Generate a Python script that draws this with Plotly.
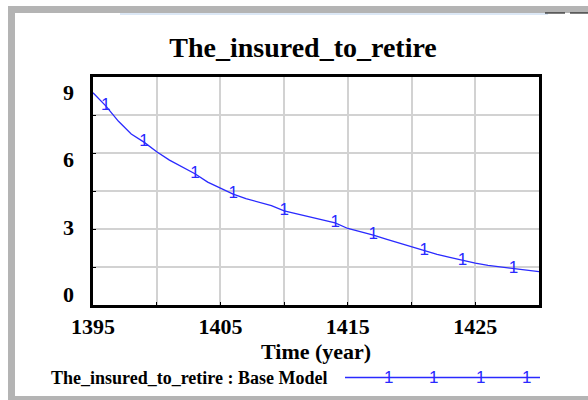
import plotly.graph_objects as go

# ---- data ----
years = list(range(1395, 1431))
values = [8.38, 7.86, 7.25, 6.75, 6.43, 6.05, 5.72, 5.45, 5.18, 4.85,
          4.60, 4.38, 4.20, 4.06, 3.92, 3.72, 3.60, 3.48, 3.36, 3.24,
          3.02, 2.90, 2.76, 2.60, 2.45, 2.30, 2.14, 2.00, 1.88, 1.75,
          1.65, 1.56, 1.50, 1.45, 1.38, 1.32]
marker_years = [1396, 1399, 1403, 1406, 1410, 1414, 1417, 1421, 1424, 1428]
x_tick_vals = [1395, 1400, 1405, 1410, 1415, 1420, 1425, 1430]
x_tick_text = ["1395", "", "1405", "", "1415", "", "1425", ""]
y_tick_text = ["9", "6", "3", "0"]
title_text = "The_insured_to_retire"
legend_text = "The_insured_to_retire : Base Model"
x_title = "Time (year)"

marker_vals = [values[years.index(y)] for y in marker_years]

BLUE = "#2a2aff"
SERIF = "Liberation Serif"

# plot area in pixels: x 93..539, y 77..305
L, R, T, B = 93, 539, 77, 305
W, H = R - L, B - T


def px(x):
    return (x - L) / W


def py(y):
    return (B - y) / H


fig = go.Figure()
fig.add_trace(go.Scatter(x=years, y=values, mode="lines",
                         line=dict(color=BLUE, width=1.3), showlegend=False,
                         hoverinfo="skip"))
fig.add_trace(go.Scatter(x=marker_years, y=marker_vals, mode="text",
                         text=["1"] * len(marker_years),
                         textposition="middle center",
                         textfont=dict(color=BLUE, size=17, family="Liberation Sans"),
                         showlegend=False, hoverinfo="skip"))

annotations = []
# y tick labels (Vensim-style placement)
for txt, ypix in zip(y_tick_text, [92, 159, 227, 294]):
    annotations.append(dict(text=txt, x=px(68), y=py(ypix), xref="paper", yref="paper",
                            showarrow=False, xanchor="center", yanchor="middle",
                            font=dict(family=SERIF, size=22, color="black", weight="bold")))
# x axis title
annotations.append(dict(text=x_title, x=px(316), y=py(351), xref="paper", yref="paper",
                        showarrow=False, xanchor="center", yanchor="middle",
                        font=dict(family=SERIF, size=22, color="black", weight="bold")))
# legend text
annotations.append(dict(text=legend_text, x=px(49), y=py(378), xref="paper", yref="paper",
                        showarrow=False, xanchor="left", yanchor="middle",
                        font=dict(family=SERIF, size=18, color="black", weight="bold")))
# legend markers
for mx in [388, 433, 480, 526]:
    annotations.append(dict(text="1", x=px(mx), y=py(377), xref="paper", yref="paper",
                            showarrow=False, xanchor="center", yanchor="middle",
                            font=dict(family="Liberation Sans", size=17, color=BLUE)))

GRAY = "#b4b4b4"
shapes = [
    # legend line
    dict(type="line", xref="paper", yref="paper", x0=px(345), x1=px(540),
         y0=py(377.5), y1=py(377.5), line=dict(color=BLUE, width=1.5)),
    # window frame
    dict(type="rect", xref="paper", yref="paper", x0=px(8), x1=px(15), y0=py(6), y1=py(400),
         fillcolor=GRAY, line=dict(width=0), layer="below"),
    dict(type="rect", xref="paper", yref="paper", x0=px(8), x1=px(590), y0=py(6), y1=py(13),
         fillcolor=GRAY, line=dict(width=0), layer="below"),
    dict(type="rect", xref="paper", yref="paper", x0=px(8), x1=px(590), y0=py(396), y1=py(401),
         fillcolor=GRAY, line=dict(width=0), layer="below"),
    dict(type="line", xref="paper", yref="paper", x0=px(120), x1=px(548), y0=py(14), y1=py(14),
         line=dict(color="#b8d0ec", width=1)),
    dict(type="line", xref="paper", yref="paper", x0=px(545), x1=px(565), y0=py(13), y1=py(13),
         line=dict(color="black", width=1)),
    dict(type="line", xref="paper", yref="paper", x0=px(570), x1=px(590), y0=py(13), y1=py(13),
         line=dict(color="black", width=1)),
]

fig.update_layout(
    width=588, height=400,
    margin=dict(l=L, r=588 - R, t=T, b=400 - B),
    paper_bgcolor="white", plot_bgcolor="white",
    title=dict(text=title_text, x=303 / 588, xanchor="center", y=1 - 47 / 400, yanchor="middle",
               font=dict(family=SERIF, size=28, color="black", weight="bold")),
    xaxis=dict(range=[1395, 1430], tickvals=x_tick_vals, ticktext=x_tick_text,
               showgrid=True, gridcolor="#d2d2d2", gridwidth=1.5,
               showline=True, linecolor="black", linewidth=2.5, mirror=True,
               ticks="inside", ticklen=3, tickcolor="black",
               tickfont=dict(family=SERIF, size=22, color="black", weight="bold"),
               zeroline=False, fixedrange=True),
    yaxis=dict(range=[0, 9], tickvals=[0, 1.5, 3, 4.5, 6, 7.5, 9], showticklabels=False,
               showgrid=True, gridcolor="#d2d2d2", gridwidth=1.5,
               showline=True, linecolor="black", linewidth=2.5, mirror=True,
               ticks="inside", ticklen=3, tickcolor="black",
               zeroline=False, fixedrange=True),
    annotations=annotations, shapes=shapes, showlegend=False,
)

fig.write_html("out.html", config={"displayModeBar": False},
               post_script="document.body.style.margin='0';document.body.style.overflow='hidden';")
